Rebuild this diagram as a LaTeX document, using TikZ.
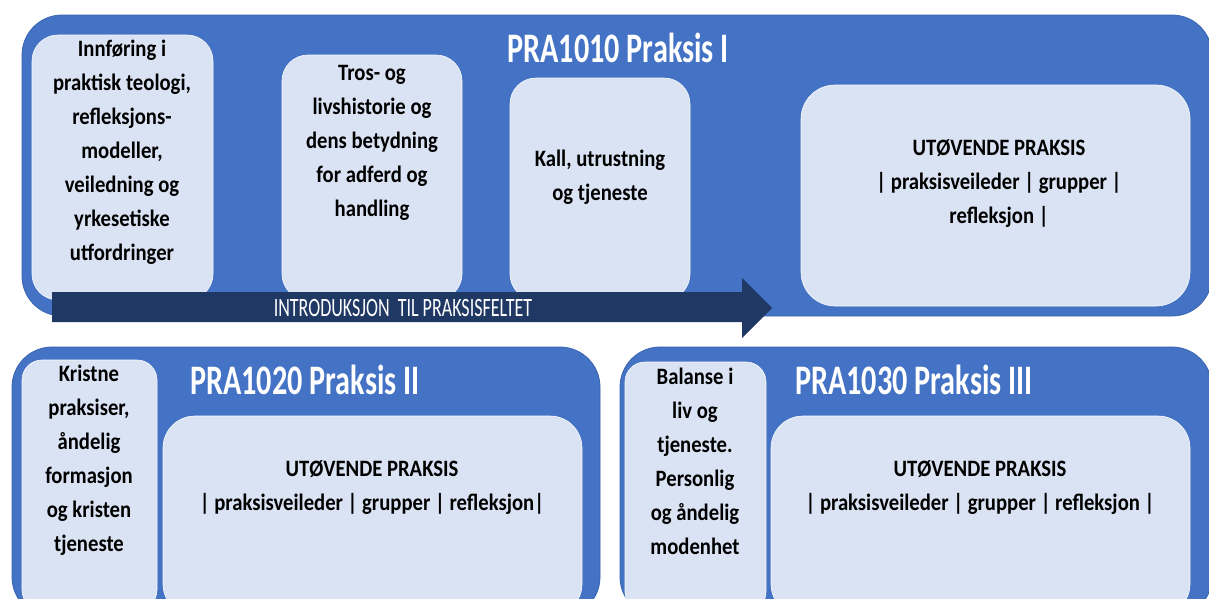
\documentclass[tikz,border=0pt]{standalone}
\usepackage{fontspec}
\setmainfont{Carlito}
\newfontfamily\bodyfont[FakeStretch=0.88]{Carlito}
\newfontfamily\titlefont[FakeStretch=0.72]{Carlito}
\newfontfamily\arrowfont[FakeStretch=0.68]{Carlito}
\definecolor{pblue}{HTML}{4472C4}
\definecolor{pedge}{HTML}{3A64B0}
\definecolor{plight}{HTML}{DAE3F3}
\definecolor{pnavy}{HTML}{203864}
\tikzset{
  outerbox/.style={rectangle, rounded corners=40pt, fill=pblue, draw=pedge, line width=0.8pt, inner sep=0pt, outer sep=0pt, anchor=north west},
  innerbox/.style={rectangle, rounded corners=26pt, fill=plight, draw=white!85!plight, line width=0.6pt, inner sep=0pt, outer sep=0pt, anchor=north west},
  bodytext/.style={align=center, text=black, font=\bodyfont\bfseries\fontsize{23.5}{34}\selectfont, inner sep=0pt},
  titletext/.style={text=white, font=\titlefont\bfseries\fontsize{42}{44}\selectfont, inner sep=0pt},
  arrowtext/.style={text=white, font=\arrowfont\fontsize{26.5}{28}\selectfont, inner sep=0pt},
}
\begin{document}
\begin{tikzpicture}[x=1pt,y=-1pt]
\useasboundingbox (0,0) rectangle (1209,598);
\clip (0,0) rectangle (1209,598);
% top block
\node[outerbox, minimum width=1190pt, minimum height=301pt] (o1) at (22,15) {};
\node[innerbox, minimum width=181pt, minimum height=265pt] (b1) at (32,35) {};
\node[innerbox, minimum width=180pt, minimum height=245pt] (b2) at (282,55) {};
\node[innerbox, minimum width=180pt, minimum height=222pt] (b3) at (510,78) {};
\node[innerbox, rounded corners=34pt, minimum width=389pt, minimum height=221pt] (b4) at (801,85) {};
\node[titletext] (t1) at (618,48) {PRA1010 Praksis I};
\node[bodytext] (b1t) at (122,152) {Innføring i\\praktisk teologi,\\refleksjons-\\modeller,\\veiledning og\\yrkesetiske\\utfordringer};
\node[bodytext] (b2t) at (372,143) {Tros- og\\livshistorie og\\dens betydning\\for adferd og\\handling};
\node[bodytext] (b3t) at (600,177) {Kall, utrustning\\og tjeneste};
\node[bodytext] (b4t) at (999,184) {UTØVENDE PRAKSIS\\| praksisveileder | grupper |\\refleksjon |};
% arrow
\coordinate (a1) at (52,292);
\coordinate (a2) at (742,292);
\coordinate (a3) at (742,278);
\coordinate (a4) at (772,308);
\coordinate (a5) at (742,338);
\coordinate (a6) at (742,322);
\coordinate (a7) at (52,322);
\fill[pnavy] (a1) -- (a2) -- (a3) -- (a4) -- (a5) -- (a6) -- (a7) -- cycle;
\node[arrowtext] (at) at (403,308) {INTRODUKSJON\ \ TIL PRAKSISFELTET};
% bottom left block
\node[outerbox, minimum width=588pt, minimum height=270pt] (o2) at (12,347) {};
\node[innerbox, rounded corners=20pt, minimum width=135pt, minimum height=250pt] (c1) at (22,360) {};
\node[innerbox, rounded corners=32pt, minimum width=419pt, minimum height=200pt] (c2) at (163,416) {};
\node[titletext, anchor=west] (t2) at (190,380) {PRA1020 Praksis II};
\node[bodytext] (c1t) at (89,460) {Kristne\\praksiser,\\åndelig\\formasjon\\og kristen\\tjeneste};
\node[bodytext] (c2t) at (372,488) {UTØVENDE PRAKSIS\\| praksisveileder | grupper | refleksjon|};
% bottom right block
\node[outerbox, minimum width=592pt, minimum height=270pt] (o3) at (620,347) {};
\node[innerbox, rounded corners=20pt, minimum width=141pt, minimum height=250pt] (d1) at (625,362) {};
\node[innerbox, rounded corners=32pt, minimum width=419pt, minimum height=200pt] (d2) at (771,416) {};
\node[titletext, anchor=west] (t3) at (795,380) {PRA1030 Praksis III};
\node[bodytext] (d1t) at (695,461) {Balanse i\\liv og\\tjeneste.\\Personlig\\og åndelig\\modenhet};
\node[bodytext] (d2t) at (980,488) {UTØVENDE PRAKSIS\\| praksisveileder | grupper | refleksjon |};
\end{tikzpicture}
\end{document}
